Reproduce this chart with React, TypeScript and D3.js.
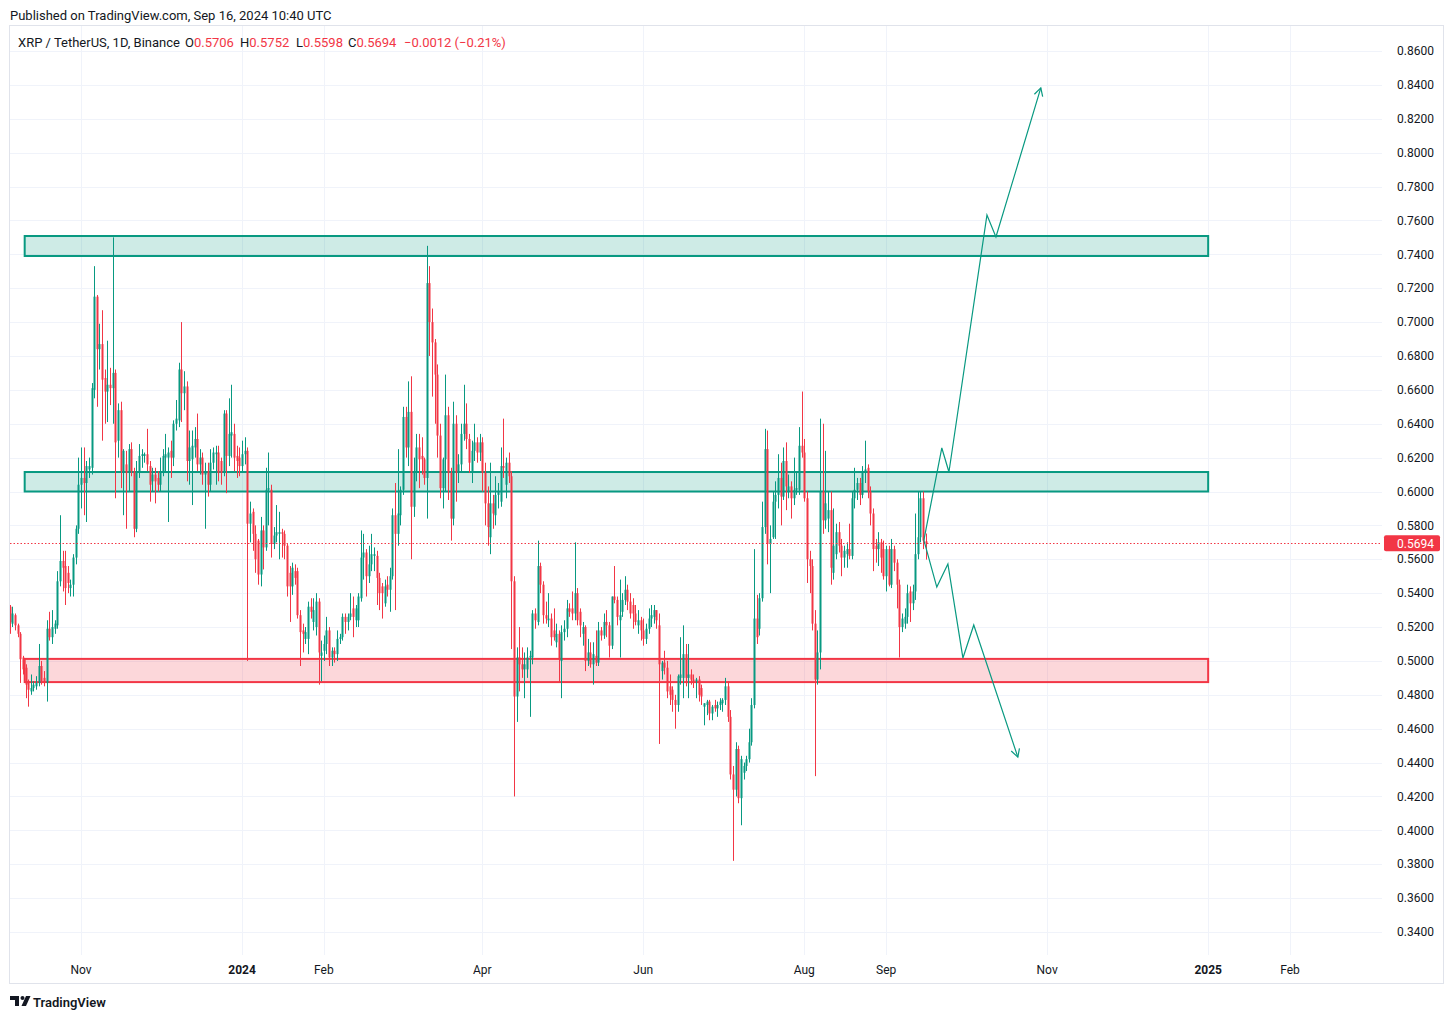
import React, { useEffect, useRef } from "react";
import * as d3 from "d3";

// open, high, low, close — one row per daily candle
type Bar = [number, number, number, number];

const firstDay = Date.UTC(2023, 9, 5);

const octBars: Bar[] = [
  [0.532, 0.533, 0.516, 0.523], [0.522, 0.532, 0.52, 0.528], [0.527, 0.528, 0.518, 0.521],
  [0.521, 0.522, 0.514, 0.516], [0.516, 0.517, 0.487, 0.501], [0.502, 0.503, 0.492, 0.495],
  [0.496, 0.498, 0.478, 0.486], [0.488, 0.489, 0.473, 0.483], [0.482, 0.492, 0.48, 0.484],
  [0.484, 0.488, 0.482, 0.486], [0.485, 0.491, 0.483, 0.487], [0.487, 0.51, 0.485, 0.497],
  [0.497, 0.5, 0.486, 0.488], [0.49, 0.494, 0.485, 0.487], [0.487, 0.524, 0.476, 0.519],
  [0.519, 0.529, 0.512, 0.514], [0.514, 0.53, 0.51, 0.52], [0.519, 0.524, 0.516, 0.522],
  [0.521, 0.553, 0.519, 0.547], [0.547, 0.586, 0.544, 0.559], [0.559, 0.565, 0.541, 0.555],
  [0.556, 0.565, 0.533, 0.543], [0.552, 0.556, 0.54, 0.546], [0.543, 0.548, 0.538, 0.545],
  [0.545, 0.563, 0.538, 0.561], [0.561, 0.58, 0.557, 0.578], [0.578, 0.62, 0.575, 0.604],
];

const novBars: Bar[] = [
  [0.604, 0.626, 0.59, 0.608], [0.608, 0.626, 0.586, 0.605], [0.605, 0.618, 0.582, 0.615],
  [0.613, 0.62, 0.608, 0.615], [0.614, 0.664, 0.61, 0.661], [0.66, 0.733, 0.655, 0.715],
  [0.715, 0.716, 0.65, 0.684], [0.684, 0.699, 0.672, 0.687], [0.687, 0.707, 0.63, 0.666],
  [0.667, 0.672, 0.64, 0.659], [0.659, 0.689, 0.641, 0.663], [0.663, 0.673, 0.651, 0.661],
  [0.661, 0.75, 0.64, 0.67], [0.67, 0.672, 0.596, 0.629], [0.63, 0.652, 0.62, 0.648],
  [0.648, 0.653, 0.602, 0.612], [0.612, 0.625, 0.586, 0.624], [0.616, 0.624, 0.578, 0.611],
  [0.611, 0.628, 0.6, 0.625], [0.625, 0.629, 0.609, 0.612], [0.612, 0.614, 0.573, 0.578],
  [0.578, 0.618, 0.576, 0.612], [0.612, 0.628, 0.608, 0.621], [0.621, 0.625, 0.614, 0.622],
  [0.621, 0.623, 0.617, 0.622], [0.622, 0.637, 0.612, 0.616], [0.615, 0.618, 0.594, 0.604],
  [0.606, 0.614, 0.6, 0.61], [0.61, 0.614, 0.593, 0.606], [0.608, 0.612, 0.6, 0.604],
];

const decBars: Bar[] = [
  [0.604, 0.62, 0.6, 0.612], [0.612, 0.625, 0.609, 0.621], [0.62, 0.634, 0.612, 0.622],
  [0.62, 0.626, 0.582, 0.623], [0.624, 0.63, 0.608, 0.62], [0.62, 0.642, 0.615, 0.64],
  [0.64, 0.654, 0.636, 0.643], [0.642, 0.676, 0.638, 0.672], [0.672, 0.7, 0.641, 0.658],
  [0.658, 0.671, 0.648, 0.662], [0.662, 0.665, 0.606, 0.618], [0.618, 0.636, 0.604, 0.626],
  [0.619, 0.636, 0.592, 0.627], [0.626, 0.638, 0.62, 0.631], [0.631, 0.646, 0.612, 0.616],
  [0.616, 0.625, 0.61, 0.62], [0.62, 0.623, 0.604, 0.61], [0.61, 0.617, 0.578, 0.612],
  [0.612, 0.617, 0.597, 0.604], [0.604, 0.625, 0.6, 0.617], [0.617, 0.626, 0.613, 0.623],
  [0.622, 0.627, 0.604, 0.623], [0.623, 0.627, 0.606, 0.611], [0.618, 0.62, 0.604, 0.611],
  [0.611, 0.648, 0.609, 0.646], [0.646, 0.648, 0.599, 0.621], [0.621, 0.655, 0.615, 0.634],
  [0.633, 0.663, 0.62, 0.635], [0.634, 0.64, 0.612, 0.62], [0.621, 0.627, 0.608, 0.618],
  [0.62, 0.626, 0.609, 0.615],
];

const janBars: Bar[] = [
  [0.615, 0.63, 0.611, 0.622], [0.622, 0.632, 0.616, 0.624], [0.624, 0.626, 0.5, 0.581],
  [0.581, 0.594, 0.57, 0.587], [0.588, 0.59, 0.565, 0.575], [0.575, 0.58, 0.552, 0.56],
  [0.571, 0.572, 0.545, 0.551], [0.551, 0.585, 0.544, 0.577], [0.577, 0.58, 0.554, 0.567],
  [0.567, 0.614, 0.565, 0.601], [0.601, 0.623, 0.58, 0.602], [0.601, 0.604, 0.561, 0.569],
  [0.569, 0.579, 0.566, 0.574], [0.574, 0.592, 0.57, 0.576], [0.575, 0.588, 0.56, 0.576],
  [0.576, 0.578, 0.561, 0.575], [0.575, 0.577, 0.56, 0.568], [0.568, 0.569, 0.538, 0.544],
  [0.552, 0.556, 0.523, 0.544], [0.544, 0.558, 0.539, 0.555], [0.553, 0.557, 0.545, 0.549],
  [0.553, 0.555, 0.525, 0.527], [0.527, 0.53, 0.497, 0.517], [0.518, 0.522, 0.505, 0.516],
  [0.513, 0.52, 0.51, 0.517], [0.513, 0.535, 0.504, 0.532], [0.532, 0.537, 0.525, 0.529],
  [0.523, 0.537, 0.518, 0.53], [0.52, 0.54, 0.515, 0.535], [0.535, 0.537, 0.486, 0.505],
  [0.503, 0.512, 0.488, 0.505],
];

const febBars: Bar[] = [
  [0.506, 0.515, 0.5, 0.51], [0.51, 0.526, 0.504, 0.518], [0.518, 0.52, 0.497, 0.502],
  [0.502, 0.508, 0.497, 0.506], [0.506, 0.508, 0.499, 0.504], [0.504, 0.518, 0.5, 0.513],
  [0.513, 0.516, 0.51, 0.514], [0.514, 0.528, 0.512, 0.526], [0.526, 0.528, 0.516, 0.523],
  [0.523, 0.528, 0.518, 0.526], [0.526, 0.54, 0.524, 0.528], [0.531, 0.538, 0.514, 0.526],
  [0.524, 0.533, 0.52, 0.531], [0.524, 0.54, 0.52, 0.538], [0.537, 0.577, 0.535, 0.561],
  [0.561, 0.575, 0.548, 0.564], [0.564, 0.566, 0.538, 0.55], [0.55, 0.568, 0.546, 0.557],
  [0.557, 0.575, 0.553, 0.563], [0.562, 0.567, 0.553, 0.563], [0.562, 0.565, 0.533, 0.549],
  [0.549, 0.552, 0.53, 0.54], [0.544, 0.546, 0.525, 0.54], [0.534, 0.548, 0.532, 0.544],
  [0.545, 0.55, 0.538, 0.542], [0.542, 0.555, 0.529, 0.55], [0.55, 0.59, 0.548, 0.586],
  [0.586, 0.605, 0.53, 0.575], [0.575, 0.625, 0.568, 0.587],
];

const marBars: Bar[] = [
  [0.586, 0.603, 0.58, 0.601], [0.601, 0.65, 0.598, 0.644], [0.644, 0.65, 0.62, 0.626],
  [0.626, 0.665, 0.615, 0.647], [0.647, 0.668, 0.56, 0.591], [0.591, 0.62, 0.585, 0.612],
  [0.612, 0.634, 0.606, 0.626], [0.626, 0.634, 0.602, 0.619], [0.621, 0.632, 0.61, 0.619],
  [0.619, 0.62, 0.604, 0.608], [0.608, 0.745, 0.584, 0.723], [0.723, 0.733, 0.68, 0.7],
  [0.7, 0.708, 0.656, 0.688], [0.688, 0.69, 0.64, 0.669], [0.669, 0.675, 0.62, 0.633],
  [0.633, 0.64, 0.596, 0.602], [0.602, 0.62, 0.59, 0.619], [0.619, 0.669, 0.6, 0.645],
  [0.645, 0.65, 0.595, 0.611], [0.611, 0.614, 0.571, 0.584], [0.584, 0.653, 0.58, 0.64],
  [0.64, 0.645, 0.594, 0.611], [0.611, 0.622, 0.605, 0.616], [0.616, 0.64, 0.612, 0.634],
  [0.634, 0.663, 0.63, 0.64], [0.64, 0.652, 0.625, 0.631], [0.631, 0.634, 0.611, 0.617],
  [0.612, 0.63, 0.605, 0.624], [0.624, 0.64, 0.618, 0.629], [0.629, 0.632, 0.617, 0.623],
  [0.623, 0.634, 0.618, 0.629],
];

const aprBars: Bar[] = [
  [0.629, 0.632, 0.6, 0.611], [0.611, 0.617, 0.58, 0.593], [0.593, 0.603, 0.568, 0.579],
  [0.573, 0.617, 0.563, 0.593], [0.593, 0.598, 0.578, 0.587], [0.586, 0.609, 0.58, 0.598],
  [0.598, 0.605, 0.59, 0.6], [0.594, 0.626, 0.591, 0.615], [0.615, 0.643, 0.608, 0.614],
  [0.604, 0.62, 0.596, 0.617], [0.617, 0.623, 0.605, 0.609], [0.609, 0.612, 0.507, 0.547],
  [0.547, 0.55, 0.42, 0.479], [0.479, 0.508, 0.464, 0.502], [0.502, 0.52, 0.482, 0.498],
  [0.498, 0.508, 0.49, 0.495], [0.495, 0.505, 0.478, 0.498], [0.495, 0.508, 0.49, 0.502],
  [0.502, 0.506, 0.467, 0.503], [0.502, 0.53, 0.498, 0.528], [0.528, 0.531, 0.519, 0.524],
  [0.523, 0.571, 0.521, 0.556], [0.556, 0.558, 0.54, 0.545], [0.545, 0.547, 0.522, 0.527],
  [0.527, 0.535, 0.522, 0.525], [0.524, 0.54, 0.52, 0.525], [0.525, 0.528, 0.509, 0.514],
  [0.518, 0.531, 0.512, 0.514], [0.511, 0.522, 0.508, 0.516], [0.516, 0.518, 0.487, 0.501],
];

const mayBars: Bar[] = [
  [0.5, 0.521, 0.478, 0.517], [0.517, 0.524, 0.512, 0.519], [0.519, 0.536, 0.514, 0.531],
  [0.531, 0.534, 0.526, 0.529], [0.531, 0.541, 0.524, 0.528], [0.528, 0.57, 0.524, 0.54],
  [0.54, 0.543, 0.521, 0.524], [0.529, 0.531, 0.514, 0.521], [0.516, 0.523, 0.509, 0.52],
  [0.52, 0.521, 0.494, 0.5], [0.5, 0.513, 0.497, 0.505], [0.505, 0.511, 0.496, 0.498],
  [0.498, 0.511, 0.486, 0.504], [0.503, 0.518, 0.497, 0.499], [0.499, 0.523, 0.497, 0.518],
  [0.518, 0.52, 0.512, 0.515], [0.515, 0.528, 0.513, 0.523], [0.523, 0.53, 0.514, 0.521],
  [0.521, 0.523, 0.502, 0.509], [0.509, 0.538, 0.507, 0.538], [0.538, 0.556, 0.534, 0.536],
  [0.536, 0.538, 0.521, 0.526], [0.524, 0.548, 0.502, 0.527], [0.529, 0.54, 0.526, 0.536],
  [0.536, 0.55, 0.533, 0.542], [0.542, 0.545, 0.53, 0.535], [0.535, 0.54, 0.525, 0.528],
  [0.533, 0.537, 0.519, 0.528], [0.528, 0.533, 0.521, 0.523], [0.521, 0.53, 0.516, 0.524],
  [0.524, 0.526, 0.512, 0.518],
];

const junBars: Bar[] = [
  [0.518, 0.525, 0.509, 0.513], [0.513, 0.522, 0.51, 0.519], [0.519, 0.531, 0.516, 0.525],
  [0.525, 0.533, 0.52, 0.527], [0.526, 0.533, 0.522, 0.53], [0.53, 0.53, 0.519, 0.524],
  [0.521, 0.528, 0.451, 0.498], [0.494, 0.5, 0.489, 0.499], [0.499, 0.506, 0.492, 0.496],
  [0.496, 0.5, 0.478, 0.482], [0.485, 0.492, 0.474, 0.48], [0.483, 0.485, 0.47, 0.477],
  [0.477, 0.48, 0.46, 0.474], [0.474, 0.492, 0.47, 0.491], [0.49, 0.514, 0.486, 0.492],
  [0.49, 0.521, 0.478, 0.504], [0.504, 0.51, 0.485, 0.49], [0.49, 0.51, 0.478, 0.492],
  [0.492, 0.495, 0.486, 0.489], [0.489, 0.492, 0.484, 0.488], [0.488, 0.49, 0.478, 0.489],
  [0.489, 0.491, 0.476, 0.48], [0.484, 0.486, 0.474, 0.479], [0.473, 0.475, 0.462, 0.475],
  [0.474, 0.477, 0.468, 0.476], [0.476, 0.477, 0.465, 0.469], [0.469, 0.474, 0.465, 0.473],
  [0.474, 0.477, 0.47, 0.472], [0.472, 0.476, 0.467, 0.474], [0.474, 0.478, 0.471, 0.476],
];

const julBars: Bar[] = [
  [0.475, 0.478, 0.47, 0.477], [0.477, 0.49, 0.474, 0.485], [0.485, 0.488, 0.464, 0.467],
  [0.467, 0.471, 0.43, 0.433], [0.433, 0.438, 0.382, 0.424], [0.424, 0.452, 0.42, 0.448],
  [0.448, 0.45, 0.416, 0.419], [0.419, 0.444, 0.403, 0.442], [0.434, 0.44, 0.43, 0.438],
  [0.438, 0.444, 0.435, 0.442], [0.442, 0.46, 0.44, 0.452], [0.452, 0.478, 0.45, 0.474],
  [0.474, 0.566, 0.472, 0.525], [0.525, 0.539, 0.51, 0.514], [0.519, 0.54, 0.515, 0.537],
  [0.537, 0.594, 0.535, 0.579], [0.579, 0.637, 0.575, 0.625], [0.625, 0.636, 0.557, 0.569],
  [0.569, 0.58, 0.54, 0.572], [0.573, 0.6, 0.572, 0.594], [0.594, 0.606, 0.572, 0.598],
  [0.598, 0.622, 0.59, 0.608], [0.608, 0.617, 0.58, 0.597], [0.597, 0.626, 0.595, 0.618],
  [0.618, 0.629, 0.589, 0.603], [0.6, 0.61, 0.596, 0.603], [0.603, 0.606, 0.584, 0.596],
  [0.596, 0.62, 0.592, 0.601], [0.601, 0.612, 0.598, 0.602], [0.601, 0.638, 0.598, 0.627],
  [0.627, 0.659, 0.62, 0.623],
];

const augBars: Bar[] = [
  [0.623, 0.631, 0.594, 0.596], [0.596, 0.6, 0.546, 0.56], [0.56, 0.565, 0.54, 0.556],
  [0.556, 0.56, 0.518, 0.522], [0.522, 0.53, 0.432, 0.489], [0.489, 0.518, 0.486, 0.505],
  [0.505, 0.643, 0.495, 0.6], [0.6, 0.64, 0.575, 0.583], [0.583, 0.624, 0.578, 0.593],
  [0.584, 0.6, 0.576, 0.589], [0.589, 0.6, 0.545, 0.555], [0.552, 0.59, 0.548, 0.568],
  [0.563, 0.581, 0.56, 0.576], [0.576, 0.582, 0.564, 0.568], [0.568, 0.572, 0.55, 0.561],
  [0.561, 0.568, 0.555, 0.565], [0.563, 0.57, 0.555, 0.566], [0.566, 0.581, 0.56, 0.562],
  [0.562, 0.6, 0.56, 0.596], [0.596, 0.614, 0.59, 0.601], [0.601, 0.608, 0.595, 0.605],
  [0.605, 0.608, 0.592, 0.598], [0.598, 0.615, 0.596, 0.612], [0.611, 0.63, 0.605, 0.613],
  [0.614, 0.616, 0.596, 0.6], [0.6, 0.603, 0.58, 0.587], [0.587, 0.59, 0.553, 0.566],
  [0.568, 0.572, 0.558, 0.566], [0.566, 0.576, 0.556, 0.57], [0.57, 0.572, 0.552, 0.561],
  [0.566, 0.571, 0.548, 0.55],
];

const sepBars: Bar[] = [
  [0.55, 0.568, 0.541, 0.566], [0.566, 0.568, 0.544, 0.545], [0.545, 0.572, 0.543, 0.566],
  [0.566, 0.568, 0.553, 0.558], [0.558, 0.56, 0.531, 0.545], [0.545, 0.548, 0.502, 0.52],
  [0.52, 0.528, 0.517, 0.525], [0.522, 0.531, 0.519, 0.526], [0.526, 0.545, 0.522, 0.54],
  [0.541, 0.544, 0.523, 0.534], [0.534, 0.545, 0.53, 0.541], [0.541, 0.587, 0.536, 0.563],
  [0.563, 0.6, 0.56, 0.573], [0.573, 0.6, 0.57, 0.596], [0.596, 0.6, 0.566, 0.571],
  [0.5706, 0.5752, 0.5598, 0.5694],
];

// drawn zones: [from, to, lower price, upper price]
const greenZones: [string, string, number, number][] = [
  ["2023-10-10T16:00Z", "2025-01-01", 0.739, 0.7508],
  ["2023-10-10T16:00Z", "2025-01-01", 0.6, 0.6115],
];
const redZones: [string, string, number, number][] = [
  ["2023-10-10T16:00Z", "2025-01-01", 0.4875, 0.5012],
];

// projection paths: [days after first candle, price]
const pathUp: [number, number][] = [
  [346.3, 0.5713], [353.1, 0.6257], [355.8, 0.6115], [370.2, 0.7632], [373.6, 0.7502], [390.6, 0.8382],
];
const pathDown: [number, number][] = [
  [346.3, 0.5713], [351.2, 0.5436], [355.4, 0.5572], [361.1, 0.5017], [365.2, 0.5212], [381.9, 0.4432],
];

const priceTicks = [
  0.34, 0.36, 0.38, 0.4, 0.42, 0.44, 0.46, 0.48, 0.5, 0.52, 0.54, 0.56, 0.58,
  0.6, 0.62, 0.64, 0.66, 0.68, 0.7, 0.72, 0.74, 0.76, 0.78, 0.8, 0.82, 0.84, 0.86,
];
const timeTicks: [string, string, boolean][] = [
  ["2023-11-01", "Nov", false], ["2024-01-01", "2024", true], ["2024-02-01", "Feb", false],
  ["2024-04-01", "Apr", false], ["2024-06-01", "Jun", false], ["2024-08-01", "Aug", false],
  ["2024-09-01", "Sep", false], ["2024-11-01", "Nov", false], ["2025-01-01", "2025", true],
  ["2025-02-01", "Feb", false],
];

const lastPrice = 0.5694;

const UP = "#089981";
const DOWN = "#F23645";
const TEXT = "#131722";
const FONT = "-apple-system, BlinkMacSystemFont, 'Trebuchet MS', Roboto, Ubuntu, sans-serif";

const App: React.FC = () => {
  const ref = useRef<SVGSVGElement>(null);

  useEffect(() => {
    if (!ref.current) return;
    const svg = d3.select(ref.current);
    svg.selectAll("*").remove();

    const pane = { left: 10, right: 1382, top: 25, bottom: 955 };
    const x = d3
      .scaleUtc()
      .domain([new Date("2023-11-01"), new Date("2025-02-01")])
      .range([81, 1290]);
    const y = d3.scaleLinear().domain([0.34, 0.86]).range([932, 51]);
    const dayX = (d: number) => x(new Date(firstDay + d * 86400000));

    const bars = [
      ...octBars, ...novBars, ...decBars, ...janBars, ...febBars, ...marBars,
      ...aprBars, ...mayBars, ...junBars, ...julBars, ...augBars, ...sepBars,
    ];

    svg.append("rect").attr("width", 1453).attr("height", 1019).attr("fill", "#fff");

    // header
    svg.append("text").attr("x", 10).attr("y", 15).attr("dy", "0.35em")
      .attr("font-family", FONT).attr("font-size", 13).attr("fill", TEXT)
      .text("Published on TradingView.com, Sep 16, 2024 10:40 UTC");

    // frame
    const frame = svg.append("g").attr("stroke", "#e0e3eb").attr("fill", "none");
    frame.append("line").attr("x1", 9.5).attr("x2", 9.5).attr("y1", 25).attr("y2", 984);
    frame.append("line").attr("x1", 9).attr("x2", 1444).attr("y1", 983.5).attr("y2", 983.5);
    frame.append("line").attr("x1", 1443.5).attr("x2", 1443.5).attr("y1", 25).attr("y2", 984);
    frame.append("line").attr("x1", 9).attr("x2", 1444).attr("y1", 25.5).attr("y2", 25.5);

    const clip = svg.append("clipPath").attr("id", "pane-clip");
    clip.append("rect").attr("x", pane.left).attr("y", pane.top + 1)
      .attr("width", pane.right - pane.left).attr("height", pane.bottom - pane.top);

    const g = svg.append("g").attr("clip-path", "url(#pane-clip)");

    // grid
    g.append("g").selectAll("line").data(priceTicks).join("line")
      .attr("x1", pane.left).attr("x2", pane.right)
      .attr("y1", (d) => Math.round(y(d)) + 0.5).attr("y2", (d) => Math.round(y(d)) + 0.5)
      .attr("stroke", "#f0f3fa");
    g.append("g").selectAll("line").data(timeTicks).join("line")
      .attr("x1", (d) => Math.round(x(new Date(d[0]))) + 0.5)
      .attr("x2", (d) => Math.round(x(new Date(d[0]))) + 0.5)
      .attr("y1", pane.top).attr("y2", pane.bottom)
      .attr("stroke", "#f0f3fa");

    // zones
    const zone = (data: [string, string, number, number][], col: string, fill: string) => {
      g.append("g").selectAll("rect").data(data).join("rect")
        .attr("x", (d) => x(new Date(d[0])))
        .attr("width", (d) => x(new Date(d[1])) - x(new Date(d[0])))
        .attr("y", (d) => y(d[3]))
        .attr("height", (d) => y(d[2]) - y(d[3]))
        .attr("fill", fill).attr("stroke", col).attr("stroke-width", 2);
    };
    zone(greenZones, UP, "rgba(8,153,129,0.2)");
    zone(redZones, DOWN, "rgba(242,54,69,0.2)");

    // candles
    const cg = g.append("g");
    const cx = (i: number) => Math.round(dayX(i));
    cg.selectAll("line").data(bars).join("line")
      .attr("x1", (_, i) => cx(i) + 0.5).attr("x2", (_, i) => cx(i) + 0.5)
      .attr("y1", (d) => y(d[1])).attr("y2", (d) => y(d[2]))
      .attr("stroke", (d) => (d[3] >= d[0] ? UP : DOWN)).attr("stroke-width", 1);
    cg.selectAll("rect").data(bars).join("rect")
      .attr("x", (_, i) => cx(i) - 0.5).attr("width", 2)
      .attr("y", (d) => y(Math.max(d[0], d[3])))
      .attr("height", (d) => Math.max(1, Math.abs(y(d[0]) - y(d[3]))))
      .attr("fill", (d) => (d[3] >= d[0] ? UP : DOWN));

    // last price line
    g.append("line")
      .attr("x1", pane.left).attr("x2", pane.right)
      .attr("y1", Math.round(y(lastPrice)) + 0.5).attr("y2", Math.round(y(lastPrice)) + 0.5)
      .attr("stroke", DOWN).attr("stroke-dasharray", "1.5,2");

    // projection paths with open arrowheads
    const line = d3.line<[number, number]>().x((d) => dayX(d[0])).y((d) => y(d[1]));
    [pathUp, pathDown].forEach((p) => {
      g.append("path").attr("d", line(p)).attr("fill", "none")
        .attr("stroke", UP).attr("stroke-width", 1.2);
      const a = p[p.length - 2];
      const b = p[p.length - 1];
      const bx = dayX(b[0]), by = y(b[1]);
      const ang = Math.atan2(by - y(a[1]), bx - dayX(a[0]));
      const len = 9;
      const pts = [ang + Math.PI - 0.5, ang + Math.PI + 0.5].map(
        (t) => [bx + len * Math.cos(t), by + len * Math.sin(t)] as [number, number]
      );
      g.append("path")
        .attr("d", `M${pts[0][0]},${pts[0][1]}L${bx},${by}L${pts[1][0]},${pts[1][1]}`)
        .attr("fill", "none").attr("stroke", UP).attr("stroke-width", 1.2);
    });

    // legend
    const leg = svg.append("g").attr("font-family", FONT).attr("font-size", 13);
    leg.append("text").attr("x", 18).attr("y", 42).attr("dy", "0.35em").attr("fill", TEXT)
      .text("XRP / TetherUS, 1D, Binance");
    const ohlc: [number, string, string][] = [
      [185, "O", "0.5706"], [240, "H", "0.5752"], [296, "L", "0.5598"], [348, "C", "0.5694"],
    ];
    ohlc.forEach(([px, k, v]) => {
      const t = leg.append("text").attr("x", px).attr("y", 42).attr("dy", "0.35em");
      t.append("tspan").attr("fill", TEXT).text(k);
      t.append("tspan").attr("fill", DOWN).text(v);
    });
    leg.append("text").attr("x", 404).attr("y", 42).attr("dy", "0.35em").attr("fill", DOWN)
      .text("\u22120.0012 (\u22120.21%)");

    // price axis
    const pa = svg.append("g").attr("font-family", FONT).attr("font-size", 12).attr("fill", TEXT);
    pa.selectAll("text").data(priceTicks).join("text")
      .attr("x", 1397).attr("y", (d) => y(d)).attr("dy", "0.35em")
      .text((d) => d3.format(".4f")(d));
    pa.append("rect").attr("x", 1384).attr("y", y(lastPrice) - 8).attr("width", 56)
      .attr("height", 16).attr("rx", 2).attr("fill", DOWN);
    pa.append("text").attr("x", 1397).attr("y", y(lastPrice)).attr("dy", "0.35em")
      .attr("fill", "#fff").text(d3.format(".4f")(lastPrice));

    // time axis
    const ta = svg.append("g").attr("font-family", FONT).attr("font-size", 12).attr("fill", TEXT);
    ta.selectAll("text").data(timeTicks).join("text")
      .attr("x", (d) => x(new Date(d[0]))).attr("y", 970).attr("dy", "0.35em")
      .attr("text-anchor", "middle").attr("font-weight", (d) => (d[2] ? 700 : 400))
      .text((d) => d[1]);

    // TradingView logo
    const logo = svg.append("g").attr("fill", TEXT);
    logo.append("path").attr("d", "M10,996h9v10h-4v-6h-5z");
    logo.append("circle").attr("cx", 22.5).attr("cy", 998).attr("r", 2);
    logo.append("path").attr("d", "M26,996h4.5l-4.5,10h-4.5z");
    logo.append("text").attr("x", 33).attr("y", 1002).attr("dy", "0.35em")
      .attr("font-family", FONT).attr("font-size", 13).attr("font-weight", 600)
      .text("TradingView");
  }, []);

  return (
    <svg
      ref={ref}
      width={1453}
      height={1019}
      style={{ position: "absolute", left: 0, top: 0 }}
    />
  );
};

export default App;
